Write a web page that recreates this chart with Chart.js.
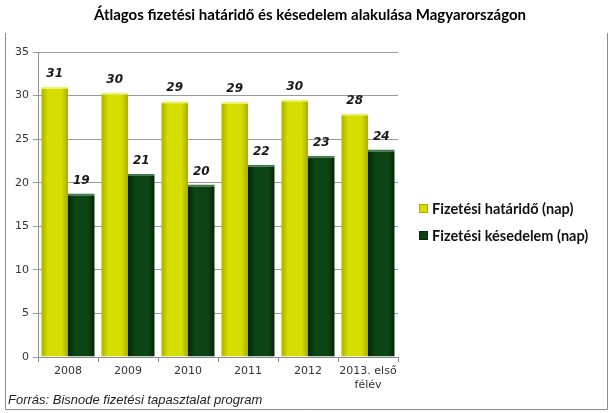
<!DOCTYPE html>
<html>
<head>
<meta charset="utf-8">
<script src="https://cdn.jsdelivr.net/npm/chart.js@4"></script>
<style>
  html, body { margin: 0; padding: 0; background: #fff; }
  #wrap { width: 613px; height: 413px; }
</style>
</head>
<body>
<div id="wrap"><canvas id="chart" width="613" height="413"></canvas></div>
<script>
// data
const years = ['2008', '2009', '2010', '2011', '2012', ['2013. első', 'félév']];
const deadline = [31.0, 30.35, 29.35, 29.25, 29.55, 27.95];   // Fizetési határidő (nap)
const delay = [18.75, 21.0, 19.8, 22.05, 23.1, 23.8];         // Fizetési késedelem (nap)
const yTicks = [0, 5, 10, 15, 20, 25, 30, 35];

const titleText = 'Átlagos fizetési határidő és késedelem alakulása Magyarországon';
const sourceText = 'Forrás: Bisnode fizetési tapasztalat program';

// horizontal gradient per bar, so they look a bit rounded like the original
function barFill(edge, mid, side) {
  return function (ctx) {
    const chart = ctx.chart;
    const x = chart.scales.x;
    if (!chart.chartArea || !x || ctx.dataIndex === undefined) return mid;
    const c = x.getPixelForValue(ctx.dataIndex);
    const w = x.width / years.length * 0.89 / 2;
    const x0 = side === 0 ? c - w : c;
    const g = chart.ctx.createLinearGradient(x0, 0, x0 + w, 0);
    g.addColorStop(0, edge);
    g.addColorStop(0.25, mid);
    g.addColorStop(0.75, mid);
    g.addColorStop(1, edge);
    return g;
  };
}

const decor = {
  id: 'decor',
  afterDraw(chart) {
    const ctx = chart.ctx;
    ctx.save();
    // frame
    ctx.strokeStyle = '#8c8c8c';
    ctx.lineWidth = 1;
    ctx.beginPath();
    ctx.moveTo(5.5, 33);
    ctx.lineTo(5.5, 409.5);
    ctx.lineTo(607.5, 409.5);
    ctx.lineTo(607.5, 33);
    ctx.stroke();

    // title
    ctx.fillStyle = '#000';
    ctx.font = 'bold 15px Lato, "Open Sans", sans-serif';
    ctx.textAlign = 'center';
    ctx.textBaseline = 'middle';
    ctx.fillText(titleText, 310, 15);

    // source
    ctx.font = 'italic 13px "Liberation Sans", Arial, sans-serif';
    ctx.textAlign = 'left';
    ctx.fillStyle = '#222';
    ctx.fillText(sourceText, 8, 400);

    // value labels
    ctx.font = 'bold italic 12px "DejaVu Sans", Verdana, sans-serif';
    ctx.textAlign = 'center';
    ctx.textBaseline = 'middle';
    ctx.fillStyle = '#1a1a1a';
    chart.data.datasets.forEach((ds, di) => {
      chart.getDatasetMeta(di).data.forEach((bar, i) => {
        ctx.fillText(Math.round(ds.data[i]), bar.x, bar.y - 13);
      });
    });

    // legend
    const items = [
      { label: chart.data.datasets[0].label, fill: '#d4dc00', edge: '#a8ad00' },
      { label: chart.data.datasets[1].label, fill: '#0c4515', edge: '#06280b' }
    ];
    ctx.font = 'bold 14.5px Lato, "Open Sans", sans-serif';
    ctx.textAlign = 'left';
    items.forEach((it, k) => {
      const y = 208 + k * 27;
      ctx.fillStyle = it.fill;
      ctx.fillRect(419, y - 4, 9, 9);
      ctx.strokeStyle = it.edge;
      ctx.strokeRect(419.5, y - 3.5, 8, 8);
      ctx.fillStyle = '#111';
      ctx.fillText(it.label, 432, y + 1);
    });
    ctx.restore();
  }
};

new Chart(document.getElementById('chart'), {
  type: 'bar',
  data: {
    labels: years,
    datasets: [
      {
        label: 'Fizetési határidő (nap)',
        data: deadline,
        backgroundColor: barFill('#a9af00', '#d6de00', 0),
        borderColor: '#eef070',
        borderWidth: { top: 2, left: 0, right: 0, bottom: 0 },
        borderSkipped: 'bottom'
      },
      {
        label: 'Fizetési késedelem (nap)',
        data: delay,
        backgroundColor: barFill('#052408', '#0c4515', 1),
        borderColor: '#3f7a48',
        borderWidth: { top: 2, left: 0, right: 0, bottom: 0 },
        borderSkipped: 'bottom'
      }
    ]
  },
  options: {
    responsive: false,
    animation: false,
    layout: { padding: { top: 52, right: 215, bottom: 0, left: 0 } },
    categoryPercentage: 0.89,
    barPercentage: 1,
    plugins: {
      legend: { display: false },
      tooltip: { enabled: false }
    },
    scales: {
      x: {
        grid: { offset: true, drawOnChartArea: false, color: '#8c8c8c', tickLength: 5 },
        border: { color: '#8c8c8c' },
        ticks: {
          color: '#333',
          font: { family: '"DejaVu Sans", Verdana, sans-serif', size: 11 },
          padding: 3,
          autoSkip: false,
          maxRotation: 0
        },
        afterFit(scale) { scale.height = 56; }
      },
      y: {
        min: 0,
        max: 35,
        afterBuildTicks(scale) { scale.ticks = yTicks.map(v => ({ value: v })); },
        grid: { color: '#9a9a9a', tickLength: 5 },
        border: { color: '#8c8c8c' },
        ticks: {
          color: '#333',
          font: { family: '"DejaVu Sans", Verdana, sans-serif', size: 11 },
          padding: 4
        },
        afterFit(scale) { scale.width = 38; }
      }
    }
  },
  plugins: [decor]
});
</script>
</body>
</html>
